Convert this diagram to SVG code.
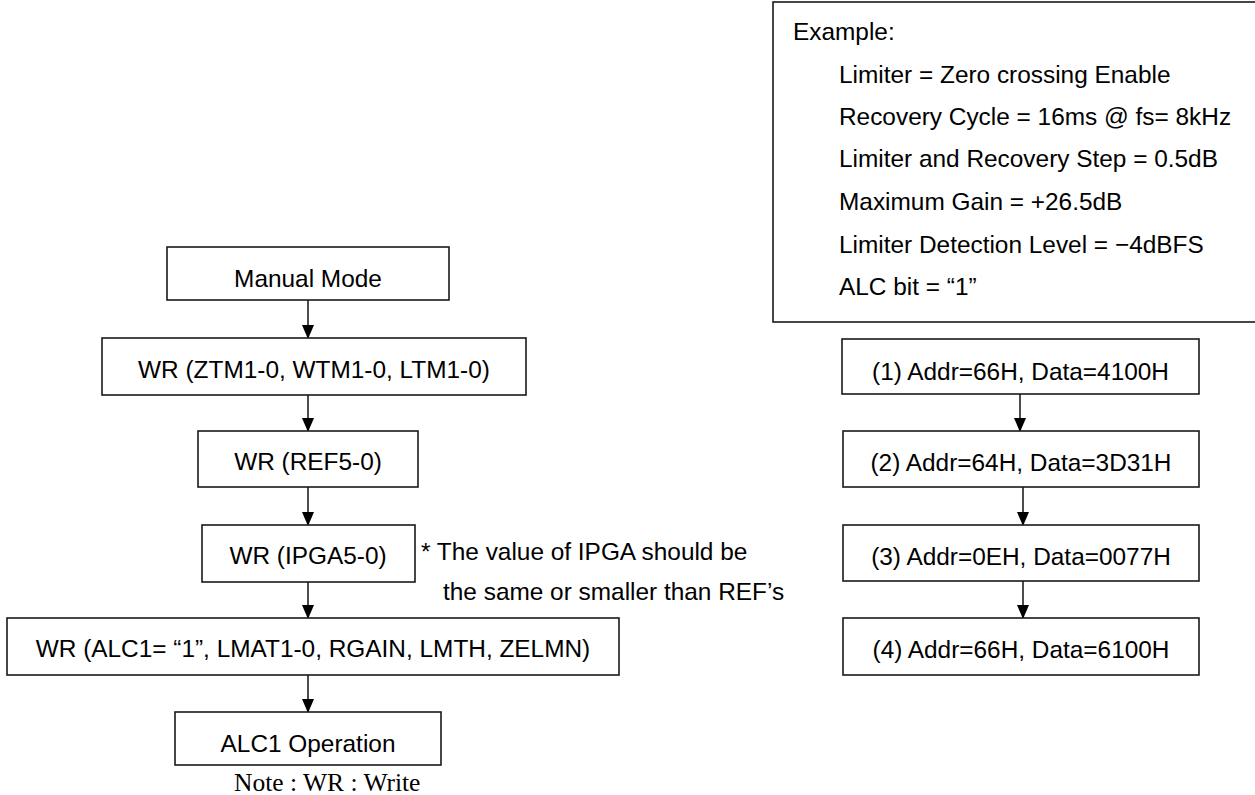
<svg xmlns="http://www.w3.org/2000/svg" width="1255" height="795" viewBox="0 0 1255 795">
<style>
.box{fill:#fff;stroke:#1a1a1a;stroke-width:1.6}
.t{font-family:"Liberation Sans",Arial,sans-serif;font-size:24.4px;fill:#000}
.c{text-anchor:middle}
.n{font-family:"Liberation Serif","Times New Roman",serif;font-size:25.5px;fill:#000}
.ln{stroke:#000;stroke-width:1.4;fill:none;marker-end:url(#ah)}
</style>
<defs>
<marker id="ah" markerWidth="14" markerHeight="12" refX="13" refY="6" orient="auto" markerUnits="userSpaceOnUse" viewBox="0 0 14 12">
<path d="M0,0 L14,6 L0,12 Z" fill="#000"/>
</marker>
</defs>
<rect width="1255" height="795" fill="#fff"/>
<g id="connectors">
<line class="ln" x1="308" y1="300" x2="308" y2="338"/>
<line class="ln" x1="308" y1="395" x2="308" y2="431"/>
<line class="ln" x1="308" y1="487" x2="308" y2="525"/>
<line class="ln" x1="308" y1="582" x2="308" y2="618"/>
<line class="ln" x1="308" y1="675" x2="308" y2="712"/>
<line class="ln" x1="1020" y1="394" x2="1020" y2="431"/>
<line class="ln" x1="1023" y1="487" x2="1023" y2="525"/>
<line class="ln" x1="1023" y1="581" x2="1023" y2="618"/>
</g>
<g id="example">
<rect class="box" x="773" y="2" width="500" height="320"/>
<text class="t" x="793" y="40">Example:</text>
<text class="t" x="839" y="83">Limiter = Zero crossing Enable</text>
<text class="t" x="839" y="125">Recovery Cycle = 16ms @ fs= 8kHz</text>
<text class="t" x="839" y="167">Limiter and Recovery Step = 0.5dB</text>
<text class="t" x="839" y="210">Maximum Gain = +26.5dB</text>
<text class="t" x="839" y="253">Limiter Detection Level = −4dBFS</text>
<text class="t" x="839" y="295">ALC bit = “1”</text>
</g>
<g id="manual">
<rect class="box" x="167" y="247" width="282" height="53"/>
<text class="t c" x="308" y="287">Manual Mode</text>
</g>
<g id="wr-ztm">
<rect class="box" x="102" y="338" width="424" height="57"/>
<text class="t c" x="314" y="378">WR (ZTM1-0, WTM1-0, LTM1-0)</text>
</g>
<g id="wr-ref">
<rect class="box" x="198" y="431" width="220" height="56"/>
<text class="t c" x="308" y="470">WR (REF5-0)</text>
</g>
<g id="wr-ipga">
<rect class="box" x="202" y="525" width="213" height="57"/>
<text class="t c" x="308" y="564">WR (IPGA5-0)</text>
</g>
<g id="ipga-note">
<text class="t" x="421" y="560">* The value of IPGA should be</text>
<text class="t" x="443" y="600">the same or smaller than REF’s</text>
</g>
<g id="wr-alc">
<rect class="box" x="7" y="618" width="612" height="57"/>
<text class="t c" x="313" y="657">WR (ALC1= “1”, LMAT1-0, RGAIN, LMTH, ZELMN)</text>
</g>
<g id="alc-op">
<rect class="box" x="175" y="712" width="266" height="53"/>
<text class="t c" x="308" y="752">ALC1 Operation</text>
</g>
<g id="note">
<text class="n" x="234" y="791">Note : WR : Write</text>
</g>
<g id="step1">
<rect class="box" x="842" y="339" width="357" height="55"/>
<text class="t c" x="1020.5" y="380">(1) Addr=66H, Data=4100H</text>
</g>
<g id="step2">
<rect class="box" x="843" y="431" width="356" height="56"/>
<text class="t c" x="1021" y="471">(2) Addr=64H, Data=3D31H</text>
</g>
<g id="step3">
<rect class="box" x="843" y="525" width="356" height="56"/>
<text class="t c" x="1021" y="565">(3) Addr=0EH, Data=0077H</text>
</g>
<g id="step4">
<rect class="box" x="843" y="618" width="356" height="57"/>
<text class="t c" x="1021" y="658">(4) Addr=66H, Data=6100H</text>
</g>
</svg>
